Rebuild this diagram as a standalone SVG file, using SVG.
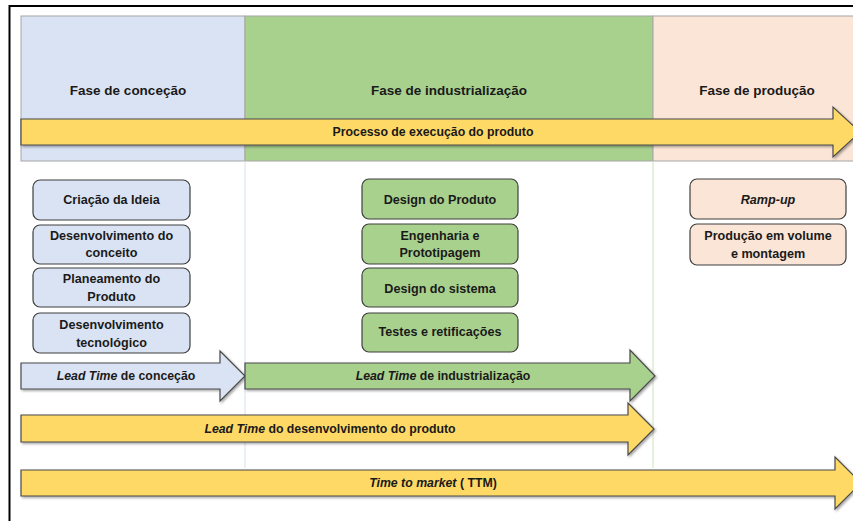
<svg xmlns="http://www.w3.org/2000/svg" width="853" height="521" viewBox="0 0 853 521">
  <defs>
    <filter id="shadow" x="-5%" y="-20%" width="110%" height="150%">
      <feDropShadow dx="1.5" dy="1.5" stdDeviation="1" flood-color="#000" flood-opacity="0.35"/>
    </filter>
  </defs>
  <style>
    text { font-family: "Liberation Sans", Arial, sans-serif; font-weight: bold; font-size: 12.3px; fill: #1a1a1a; text-anchor: middle; dominant-baseline: central; }
    .it { font-style: italic; }
    .title { font-size: 13.5px; }
    .lbl { font-size: 12.6px; }
    .phase { stroke: #a6a6a6; stroke-width: 1; }
    .box { stroke: #3f3f3f; stroke-width: 1.2; }
    .arrow { stroke: #4a4a4a; stroke-width: 1.2; stroke-linejoin: miter; filter: url(#shadow); }
    .blue { fill: #dae3f3; }
    .green { fill: #a9d18e; }
    .peach { fill: #fbe5d6; }
    .yellow { fill: #ffd966; }
  </style>

  <rect width="853" height="521" fill="#ffffff"/>
  <!-- outer frame -->
  <path d="M9.5 521 V6 H853" fill="none" stroke="#000" stroke-width="2"/>

  <!-- phase columns -->
  <g id="phase-concecao">
    <rect class="phase blue" x="21" y="16" width="224" height="145"/>
    <text class="title" x="128" y="90">Fase de conceção</text>
  </g>
  <g id="phase-industrializacao">
    <rect class="phase green" x="245" y="16" width="408" height="145"/>
    <text class="title" x="449" y="90">Fase de industrialização</text>
  </g>
  <g id="phase-producao">
    <rect class="phase peach" x="653" y="16" width="210" height="145"/>
    <text class="title" x="757" y="90">Fase de produção</text>
  </g>

  <!-- column guide lines -->
  <line x1="245" y1="161" x2="245" y2="468" stroke="#dce6f4" stroke-width="1.2"/>
  <line x1="653" y1="161" x2="653" y2="468" stroke="#d3e8c6" stroke-width="1.2"/>

  <g id="arrow-processo">
    <path class="arrow yellow" d="M21 119 H833 V107 L860 132 L833 157 V145 H21 Z"/>
    <text x="433" y="132">Processo de execução do produto</text>
  </g>

  <!-- concept phase tasks -->
  <g id="node-criacao">
    <rect class="box blue" x="33" y="180" width="157" height="40" rx="7"/>
    <text class="lbl" x="111.5" y="200">Criação da Ideia</text>
  </g>
  <g id="node-desenv-conceito">
    <rect class="box blue" x="33" y="225" width="157" height="39" rx="7"/>
    <text class="lbl" x="111.5" y="236">Desenvolvimento do</text>
    <text class="lbl" x="111.5" y="253">conceito</text>
  </g>
  <g id="node-planeamento">
    <rect class="box blue" x="33" y="268" width="157" height="39" rx="7"/>
    <text class="lbl" x="111.5" y="279">Planeamento do</text>
    <text class="lbl" x="111.5" y="297">Produto</text>
  </g>
  <g id="node-desenv-tecnologico">
    <rect class="box blue" x="33" y="313" width="157" height="40" rx="7"/>
    <text class="lbl" x="111.5" y="325">Desenvolvimento</text>
    <text class="lbl" x="111.5" y="343">tecnológico</text>
  </g>

  <!-- industrialization phase tasks -->
  <g id="node-design-produto">
    <rect class="box green" x="362" y="179" width="156" height="40" rx="7"/>
    <text class="lbl" x="440" y="200">Design do Produto</text>
  </g>
  <g id="node-engenharia">
    <rect class="box green" x="362" y="224" width="156" height="40" rx="7"/>
    <text class="lbl" x="440" y="236">Engenharia e</text>
    <text class="lbl" x="440" y="253">Prototipagem</text>
  </g>
  <g id="node-design-sistema">
    <rect class="box green" x="362" y="268" width="156" height="39" rx="7"/>
    <text class="lbl" x="440" y="289">Design do sistema</text>
  </g>
  <g id="node-testes">
    <rect class="box green" x="362" y="313" width="156" height="39" rx="7"/>
    <text class="lbl" x="440" y="332">Testes e retificações</text>
  </g>

  <!-- production phase tasks -->
  <g id="node-ramp-up">
    <rect class="box peach" x="690" y="179" width="156" height="40" rx="7"/>
    <text class="lbl it" x="768" y="200">Ramp-up</text>
  </g>
  <g id="node-producao-volume">
    <rect class="box peach" x="690" y="224" width="156" height="41" rx="7"/>
    <text class="lbl" x="768" y="236">Produção em volume</text>
    <text class="lbl" x="768" y="254">e montagem</text>
  </g>

  <!-- lead time arrows -->
  <g id="connectors">
    <g id="arrow-lt-concecao">
      <path class="arrow blue" d="M21 363 H220 V351 L245 376 L220 401 V389 H21 Z"/>
      <text x="126" y="376"><tspan class="it">Lead Time</tspan> de conceção</text>
    </g>
    <g id="arrow-lt-industrializacao">
      <path class="arrow green" d="M245 363 H630 V350 L655 376 L630 401 V389 H245 Z"/>
      <text x="443" y="376"><tspan class="it">Lead Time</tspan> de industrialização</text>
    </g>
    <g id="arrow-lt-desenvolvimento">
      <path class="arrow yellow" d="M21 415 H628 V403 L654 429 L628 455 V442 H21 Z"/>
      <text x="330" y="429"><tspan class="it">Lead Time</tspan> do desenvolvimento do produto</text>
    </g>
    <g id="arrow-ttm">
      <path class="arrow yellow" d="M21 470 H835 V457 L861 483 L835 509 V496 H21 Z"/>
      <text x="433" y="483"><tspan class="it">Time to market</tspan> ( TTM)</text>
    </g>
  </g>
</svg>
